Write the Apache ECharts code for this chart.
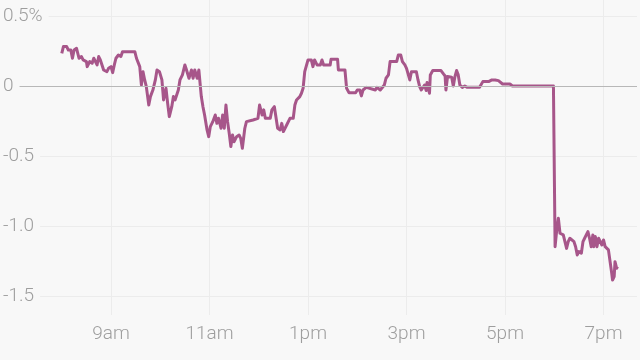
<!DOCTYPE html>
<html><head><meta charset="utf-8">
<script src="https://cdn.jsdelivr.net/npm/echarts@6/dist/echarts.min.js"></script>
<style>html,body{margin:0;padding:0;background:#f8f8f8}#c{width:640px;height:360px}</style>
</head><body><div id="c"></div>
<script>
// minutes since midnight
const times = [
480,482,486,488,491,493,495,498,501,504,
506,510,511,514,517,519,523,525,527,529,
531,535,537,540,542,544,546,549,552,554,
569,571,573,575,577,579,581,583,586,588,
591,594,596,599,602,604,607,609,611,614,
616,618,620,622,624,627,630,632,635,638,
640,642,645,647,650,652,654,657,659,661,
664,667,669,671,674,676,678,680,682,684,
686,688,690,693,696,698,700,703,705,713,
715,719,721,724,726,728,734,736,739,741,
743,746,748,750,752,754,756,758,762,764,
766,768,770,772,774,776,778,780,784,786,
788,791,795,
797,799,807,808,816,817,825,827,830,838,
840,843,845,847,851,853,862,864,866,868,
870,873,875,878,880,888,890,893,895,898,
900,902,904,906,912,914,916,918,920,922,
924,925,928,929,932,942,945,947,948,950,
952,955,957,959,961,963,965,968,971,974,
989,993,1000,1002,1004,1006,1008,1012,1014,1017,
1026,1029,1079,
1081,1083,1085,1087,1089,1091,1093,1095,1097,1099,
1101,1104,1106,1108,1110,1113,1115,1117,1119,1121,
1123,1125,1127,1128,1130,1132,1134,1136,1138,1140,
1142,1144,1146,1148,1150,1151,1153,1154,1156,1157
];
// percent change
const values = [
0.233,0.281,0.281,0.257,0.257,0.198,0.257,0.269,0.198,0.210,
0.186,0.174,0.138,0.174,0.162,0.198,0.150,0.210,0.186,0.174,
0.114,0.102,0.126,0.138,0.095,0.150,0.198,0.221,0.210,0.245,
0.245,0.198,0.186,0.138,0.007,0.102,0.043,-0.005,-0.136,-0.076,
-0.029,0.043,0.114,0.102,0.043,-0.100,-0.017,-0.124,-0.219,-0.148,
-0.076,-0.100,-0.088,-0.029,0.043,0.079,0.150,0.114,0.055,0.114,
0.055,0.114,0.055,0.114,-0.076,-0.148,-0.207,-0.314,-0.362,-0.290,
-0.255,-0.207,-0.267,-0.231,-0.302,-0.207,-0.302,-0.136,-0.255,-0.338,
-0.433,-0.350,-0.398,-0.362,-0.350,-0.374,-0.445,-0.302,-0.255,-0.243,
-0.255,-0.231,-0.136,-0.207,-0.171,-0.231,-0.231,-0.171,-0.148,-0.160,
-0.302,-0.314,-0.267,-0.326,-0.338,-0.279,-0.267,-0.231,-0.231,-0.136,
-0.100,-0.112,-0.076,-0.052,-0.017,0.102,0.114,0.186,0.186,0.138,
0.186,0.150,0.150,
0.186,0.150,0.150,0.190,0.190,0.114,0.114,-0.017,-0.048,-0.048,
-0.029,-0.029,-0.071,-0.029,-0.010,-0.024,-0.029,-0.010,-0.010,-0.029,
-0.017,0.007,0.055,0.079,0.174,0.174,0.221,0.221,0.174,0.150,
0.126,0.114,0.043,0.102,0.102,0.043,-0.005,-0.029,-0.029,0.007,
-0.033,0.024,-0.052,0.079,0.110,0.110,0.086,0.071,-0.029,0.067,
0.062,0.062,0.000,0.067,0.110,0.079,0.007,-0.010,0.000,-0.010,
-0.010,0.031,0.031,0.019,0.043,0.031,0.043,0.038,0.031,0.014,
0.014,0.000,0.000,
-1.148,-1.029,-0.945,-1.052,-1.040,-1.064,-1.112,-1.160,-1.112,-1.088,
-1.076,-1.112,-1.148,-1.207,-1.183,-1.195,-1.112,-1.088,-1.064,-1.040,
-1.088,-1.148,-1.064,-1.148,-1.076,-1.148,-1.088,-1.095,-1.136,-1.100,
-1.148,-1.160,-1.171,-1.171,-1.338,-1.386,-1.362,-1.255,-1.302,-1.290
];
const xTickValues = [540, 660, 780, 900, 1020, 1140];
const xTickLabels = ['9am', '11am', '1pm', '3pm', '5pm', '7pm'];
const yTickValues = [0.5, 0, -0.5, -1, -1.5];
const yTickLabels = ['0.5%', '0', '-0.5', '-1.0', '-1.5'];
const yGridValues = [0.5, -0.5, -1, -1.5];

const data = times.map((t, i) => [t, values[i]]);
const FONT = 'Roboto, "Liberation Sans", sans-serif';
const chart = echarts.init(document.getElementById('c'), null, {renderer: 'canvas'});
chart.setOption({
  backgroundColor: '#f8f8f8',
  animation: false,
  grid: {left: 3, right: 3, top: 0, bottom: 45, containLabel: false},
  xAxis: {
    type: 'value', min: 408.4, max: 1180.8,
    axisLine: {show: false},
    axisTick: {show: false, customValues: xTickValues},
    axisLabel: {
      customValues: xTickValues, margin: 10,
      color: '#9e9e9e', fontSize: 19, fontFamily: FONT, fontWeight: 300,
      formatter: v => xTickLabels[xTickValues.indexOf(v)]
    },
    splitLine: {show: true, lineStyle: {color: '#ececec', width: 1}}
  },
  yAxis: [{
    type: 'value', min: -1.636, max: 0.614,
    axisLine: {show: false},
    axisTick: {show: false, customValues: yGridValues},
    axisLabel: {show: false, customValues: yGridValues},
    splitLine: {show: true, lineStyle: {color: '#ececec', width: 1}}
  }, {
    type: 'value', min: -1.636, max: 0.614, position: 'left', z: 5,
    axisLine: {show: false},
    axisTick: {show: false, customValues: yTickValues},
    splitLine: {show: false},
    axisLabel: {
      customValues: yTickValues, inside: true, margin: 0,
      color: '#9e9e9e', fontSize: 19, fontFamily: FONT, fontWeight: 300,
      backgroundColor: '#f8f8f8', padding: [3, 6, 3, 0],
      formatter: v => yTickLabels[yTickValues.indexOf(v)]
    }
  }],
  series: [{
    type: 'line', data: [], z: 1, silent: true,
    markLine: {
      silent: true, symbol: 'none', label: {show: false},
      lineStyle: {color: '#b8b8b8', width: 1, type: 'solid'},
      data: [{yAxis: 0}]
    }
  }, {
    type: 'line', data: data, z: 2,
    showSymbol: false, symbol: 'none',
    lineStyle: {color: '#a7568a', width: 3, join: 'round'}
  }]
});
</script>
</body></html>
